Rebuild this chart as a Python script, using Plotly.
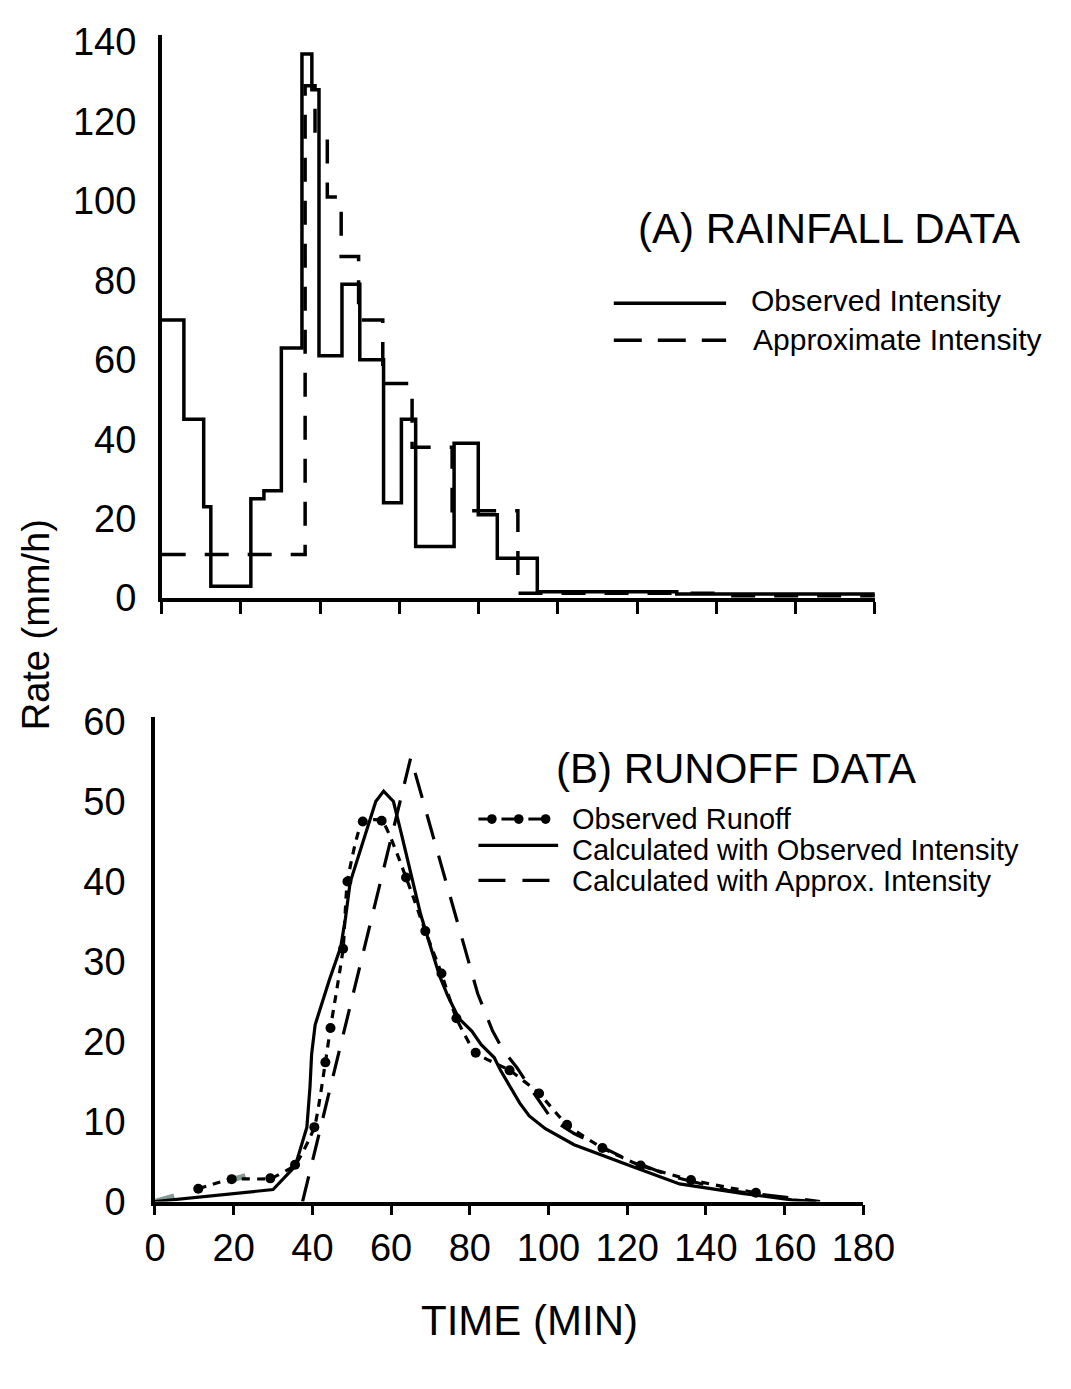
import plotly.graph_objects as go

W, H = 1071, 1389
FONT = "Liberation Sans, Arial, Helvetica, sans-serif"

# ---------------- (A) Rainfall data (step edges in minutes, rate mm/h) ----------------
obs_int_t = [0, 5.6, 10.6, 12.4, 22.5, 25.8, 30.2, 35.4, 37.9, 39.7, 45.5, 50.0, 56.0,
             60.5, 64.1, 73.8, 79.9, 84.7, 94.8, 130, 180]
obs_int_v = [70, 45, 23, 3, 25, 27, 63, 137, 128, 61, 79, 60, 24,
             45, 13, 39, 21, 10, 1.6, 1.0, 1.0]

apx_int_t = [0, 36.2, 38.7, 41.8, 45.3, 49.7, 55.8, 63.2, 73.3, 89.9, 140, 180]
apx_int_v = [11, 129, 117, 101, 86, 70, 54, 38, 22, 1.2, 0.6, 0.6]

# ---------------- (B) Runoff data (minutes, mm/h) ----------------
obs_run_t = [11, 19.5, 29.3, 35.6, 40.5, 43.3, 44.6, 47.8, 48.9, 52.8, 57.6, 63.8, 68.7,
             72.8, 76.6, 81.5, 90.1, 97.6, 104.7, 113.7, 123.4, 136.2, 152.7]
obs_run_q = [1.6, 2.8, 2.9, 4.6, 9.3, 17.4, 21.7, 31.6, 40.0, 47.5, 47.6, 40.5, 33.8,
             28.5, 22.9, 18.6, 16.4, 13.5, 9.6, 6.7, 4.5, 2.7, 1.1]

calc_obs_t = [0, 30, 35.6, 38.6, 39.4, 39.8, 40.7, 44.3, 47.2, 48.4, 49.6, 53.7, 56.1,
              58.1, 60.6, 62.6, 65, 67.5, 70.3, 72.4, 74.4, 77.2, 80.5, 82.9, 86.2, 87.8,
              92.7, 95.1, 99.2, 106.5, 121.1, 133.3, 149.6, 161.8, 168]
calc_obs_q = [0, 1.5, 4.4, 9.3, 14.4, 18.4, 22.1, 27.7, 31.8, 35.4, 39.9, 46.4, 50.0,
              51.3, 50.0, 46.0, 41.1, 35.9, 31.4, 28.1, 25.7, 22.9, 21.3, 19.6, 18.0, 16.4,
              12.3, 10.7, 9.1, 7.1, 4.4, 2.2, 1.0, 0.2, 0]

calc_apx_t = [37.5, 65, 82, 85.8, 88.6, 91.9, 95.1, 100.8, 106.5, 119.5, 130.9, 145.5,
              162.6, 169]
calc_apx_q = [0, 55.5, 26.0, 21.3, 18.8, 16.8, 14.4, 10.3, 8.5, 5.4, 3.2, 1.4, 0.4, 0]

early_t = [0, 23]
early_q = [0, 3.2]

y_ticks_a = [0, 20, 40, 60, 80, 100, 120, 140]
y_ticks_b = [0, 10, 20, 30, 40, 50, 60]
x_ticks = [0, 20, 40, 60, 80, 100, 120, 140, 160, 180]


def px(x):
    return x / W


def py(y):
    return 1 - y / H


fig = go.Figure()

# top panel
fig.add_trace(go.Scatter(x=obs_int_t, y=obs_int_v, mode="lines", line_shape="hv",
                         line=dict(color="black", width=3.5), xaxis="x", yaxis="y",
                         cliponaxis=False, showlegend=False))
fig.add_trace(go.Scatter(x=apx_int_t, y=apx_int_v, mode="lines", line_shape="hv",
                         line=dict(color="black", width=3.5, dash="24px,19px"),
                         xaxis="x", yaxis="y", cliponaxis=False, showlegend=False))

# bottom panel
fig.add_trace(go.Scatter(x=early_t, y=early_q, mode="lines",
                         line=dict(color="#869a98", width=5.5, dash="20px,55px"),
                         xaxis="x2", yaxis="y2", cliponaxis=False, showlegend=False))
fig.add_trace(go.Scatter(x=calc_apx_t, y=calc_apx_q, mode="lines",
                         line=dict(color="black", width=3.2, dash="26px,17px"),
                         xaxis="x2", yaxis="y2", cliponaxis=False, showlegend=False))
fig.add_trace(go.Scatter(x=calc_obs_t, y=calc_obs_q, mode="lines",
                         line=dict(color="black", width=3.2),
                         xaxis="x2", yaxis="y2", cliponaxis=False, showlegend=False))
fig.add_trace(go.Scatter(x=obs_run_t, y=obs_run_q, mode="lines+markers",
                         line=dict(color="black", width=3.2, dash="8px,7px", shape="spline",
                                   smoothing=0.5),
                         marker=dict(color="black", size=10),
                         xaxis="x2", yaxis="y2", cliponaxis=False, showlegend=False))

axis_common = dict(showgrid=False, zeroline=False, showline=True, linecolor="black",
                   linewidth=3.5, tickfont=dict(family=FONT, size=38, color="black"))

fig.update_layout(
    width=W, height=H, autosize=False,
    margin=dict(l=0, r=0, t=0, b=0),
    paper_bgcolor="white", plot_bgcolor="white",
    font=dict(family=FONT, color="black"),
    xaxis=dict(domain=[px(157), px(900)], range=[0, 180], tickvals=x_ticks,
               showticklabels=False, ticks="outside", ticklen=12, tickwidth=3,
               tickcolor="black", anchor="y", **axis_common),
    yaxis=dict(domain=[py(598), py(20)], range=[0, (598 - 20) / 4.08], tickvals=y_ticks_a,
               ticks="", ticklabelstandoff=14, anchor="x", **axis_common),
    xaxis2=dict(domain=[px(150), px(888)], range=[0, 180], tickvals=x_ticks,
                ticks="outside", ticklen=10, tickwidth=3, tickcolor="black",
                anchor="y2", **axis_common),
    yaxis2=dict(domain=[py(1218), py(720)], range=[0, (1218 - 720) / 8.22],
                tickvals=y_ticks_b, ticks="", ticklabelstandoff=18, anchor="x2",
                **axis_common),
)

shapes = []
ann = []


def text(x, y, s, size, xanchor="left", angle=0):
    ann.append(dict(x=px(x), y=py(y), xref="paper", yref="paper", text=s, showarrow=False,
                    xanchor=xanchor, yanchor="middle", textangle=angle, borderpad=0,
                    font=dict(family=FONT, size=size, color="black")))


def hline(x0, x1, y, dash=None, width=3.5):
    ln = dict(color="black", width=width)
    if dash:
        ln["dash"] = dash
    shapes.append(dict(type="line", xref="paper", yref="paper", x0=px(x0), x1=px(x1),
                       y0=py(y), y1=py(y), line=ln))


def dot(x, y, r):
    shapes.append(dict(type="circle", xref="paper", yref="paper", x0=px(x - r), x1=px(x + r),
                       y0=py(y + r), y1=py(y - r), fillcolor="black",
                       line=dict(color="black", width=0)))


# titles
text(852, 218, "(A) RAINFALL DATA", 42, "center")
text(755, 773, "(B) RUNOFF DATA", 42, "center")
text(540, 1340, "TIME (MIN)", 42, "center")
text(26, 625, "Rate (mm/h)", 38, "center", angle=-90)

# legend A
hline(628, 745, 295)
text(770, 292, "Observed Intensity", 30)
hline(628, 745, 333, dash="28px,16px")
text(772, 332, "Approximate Intensity", 30)

# legend B
for a, b in [(487, 499), (511, 527), (539, 555)]:
    hline(a, b, 825, width=3)
for c in [501, 529, 557]:
    dot(c, 825, 5)
text(583, 825, "Observed Runoff", 29)
hline(487, 570, 852, width=3.2)
text(583, 857, "Calculated with Observed Intensity", 29)
hline(487, 570, 888, dash="27px,17px", width=3.2)
text(583, 889, "Calculated with Approx. Intensity", 29)

fig.update_layout(shapes=shapes, annotations=ann)

fig.write_html("out.html", config={"displayModeBar": False},
               post_script="document.body.style.margin='0';")
